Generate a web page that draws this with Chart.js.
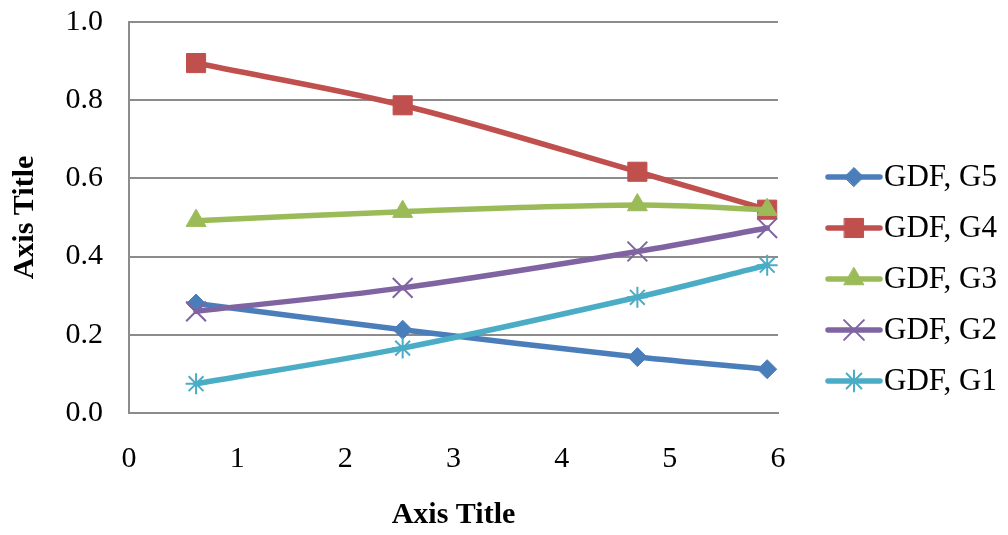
<!DOCTYPE html>
<html><head><meta charset="utf-8">
<script src="https://cdn.jsdelivr.net/npm/chart.js@4"></script>
<style>html,body{margin:0;padding:0;background:#fff}#wrap{width:1008px;height:535px}</style>
</head><body><div id="wrap"><canvas id="c" width="1008" height="535"></canvas></div>
<script>
// ---- data ----
const xValues = [0.62, 2.53, 4.70, 5.90];
const seriesNames = ['GDF, G5', 'GDF, G4', 'GDF, G3', 'GDF, G2', 'GDF, G1'];
const g5 = [0.280, 0.213, 0.143, 0.112];
const g4 = [0.895, 0.787, 0.617, 0.520];
const g3 = [0.492, 0.515, 0.532, 0.520];
const g2 = [0.260, 0.320, 0.413, 0.473];
const g1 = [0.075, 0.166, 0.296, 0.378];
const xTickLabels = ['0', '1', '2', '3', '4', '5', '6'];
const yTickLabels = ['0.0', '0.2', '0.4', '0.6', '0.8', '1.0'];
const xAxisTitle = 'Axis Title';
const yAxisTitle = 'Axis Title';

// ---- styles ----
const seriesValues = [g5, g4, g3, g2, g1];
const colors = ['#4A7EBB', '#C0504D', '#9BBB59', '#8064A2', '#4BACC6'];
const pointStyles = ['rectRot', 'rect', 'triangle', 'crossRot', 'star'];
const pointRadii = [9.5, 13.5, 11.5, 14, 10.5];
const pointBorders = [1, 1, 1, 2, 2];
const FONT = "'Liberation Serif', 'Times New Roman', serif";

const datasets = seriesValues.map((vals, i) => ({
  label: seriesNames[i],
  data: xValues.map((x, j) => ({ x: x, y: vals[j] })),
  borderColor: colors[i],
  backgroundColor: colors[i],
  borderWidth: 5.5,
  borderCapStyle: 'round',
  borderJoinStyle: 'round',
  tension: 0.33,
  pointStyle: pointStyles[i],
  pointRadius: pointRadii[i],
  pointHoverRadius: pointRadii[i],
  pointBackgroundColor: colors[i],
  pointBorderColor: colors[i],
  pointBorderWidth: pointBorders[i],
  order: 5 - i,
  clip: false,
  fill: false
}));

const sideLegend = {
  id: 'sideLegend',
  afterDraw(chart) {
    const ctx = chart.ctx;
    chart.data.datasets.forEach((ds, i) => {
      const y = 177 + i * 51;
      ctx.save();
      ctx.strokeStyle = ds.borderColor;
      ctx.lineWidth = ds.borderWidth;
      ctx.lineCap = 'round';
      ctx.beginPath();
      ctx.moveTo(828, y);
      ctx.lineTo(880, y);
      ctx.stroke();
      ctx.fillStyle = ds.pointBackgroundColor;
      ctx.strokeStyle = ds.pointBorderColor;
      ctx.lineWidth = ds.pointBorderWidth;
      Chart.helpers.drawPoint(ctx, {
        pointStyle: ds.pointStyle,
        radius: ds.pointRadius,
        borderWidth: ds.pointBorderWidth,
        rotation: 0
      }, 854, y);
      ctx.fillStyle = '#000';
      ctx.font = '31px ' + FONT;
      ctx.textAlign = 'left';
      ctx.textBaseline = 'middle';
      ctx.fillText(ds.label, 884, y + 1);
      ctx.restore();
    });
  }
};

new Chart(document.getElementById('c'), {
  type: 'line',
  data: { datasets: datasets },
  plugins: [sideLegend],
  options: {
    responsive: false,
    animation: false,
    devicePixelRatio: 1,
    layout: { autoPadding: false, padding: { left: 0, right: 230, top: 22, bottom: 0 } },
    plugins: { legend: { display: false }, tooltip: { enabled: false } },
    scales: {
      x: {
        type: 'linear',
        min: 0, max: 6,
        afterFit(s) { s.height = 122; },
        afterBuildTicks(s) { s.ticks = xTickLabels.map(v => ({ value: Number(v) })); },
        ticks: {
          callback: (v, i) => xTickLabels[i],
          color: '#000',
          padding: 0,
          maxRotation: 0,
          font: { family: FONT, size: 30 }
        },
        grid: { color: 'rgba(0,0,0,0)', drawTicks: true, tickLength: 28, tickColor: 'rgba(0,0,0,0)' },
        border: { display: true, color: '#8c8c8c', width: 2 },
        title: {
          display: true, text: xAxisTitle, color: '#000',
          font: { family: FONT, size: 30, weight: 'bold' },
          padding: { top: 0, bottom: 2 }
        }
      },
      y: {
        type: 'linear',
        min: 0, max: 1,
        afterFit(s) { s.width = 129; },
        afterBuildTicks(s) { s.ticks = yTickLabels.map(v => ({ value: Number(v) })); },
        ticks: {
          callback: (v, i) => yTickLabels[i],
          color: '#000',
          padding: 0,
          font: { family: FONT, size: 30 }
        },
        grid: { color: '#8c8c8c', lineWidth: 2, drawTicks: true, tickLength: 26, tickColor: 'rgba(0,0,0,0)' },
        border: { display: true, color: '#8c8c8c', width: 2 },
        title: {
          display: true, text: yAxisTitle, color: '#000',
          font: { family: FONT, size: 30, weight: 'bold' },
          padding: { top: 7, bottom: 0 }
        }
      }
    }
  }
});
</script>
</body></html>
